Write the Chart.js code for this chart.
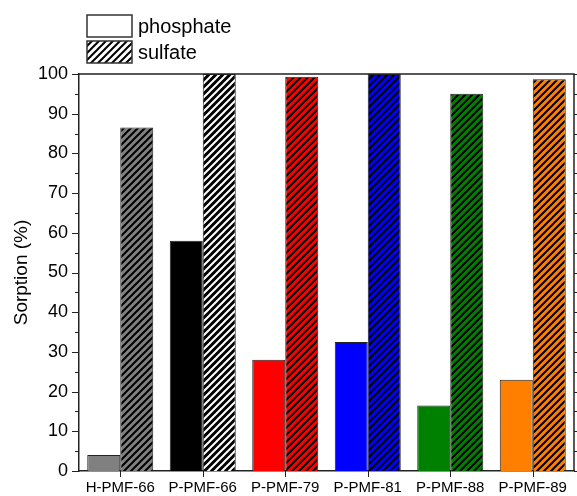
<!DOCTYPE html>
<html>
<head>
<meta charset="utf-8">
<script src="https://cdn.jsdelivr.net/npm/chart.js@4"></script>
<style>
  html, body { margin: 0; padding: 0; background: #fff; }
  #wrap { width: 577px; height: 496px; position: relative; }
</style>
</head>
<body>
<div id="wrap"><canvas id="sorptionChart"></canvas></div>
<script>
// ---- data ----
const samples = ['H-PMF-66', 'P-PMF-66', 'P-PMF-79', 'P-PMF-81', 'P-PMF-88', 'P-PMF-89'];
const phosphate = [4, 58, 28, 32.5, 16.5, 23];
const sulfate = [86.5, 100, 99.3, 100, 95, 98.7];
const barColors = ['#808080', '#000000', '#ff0000', '#0000ff', '#008000', '#ff8000'];
const yTicks = [0, 10, 20, 30, 40, 50, 60, 70, 80, 90, 100];

// diagonal hatch "/" on a coloured ground
function hatch(bg, fg) {
    const s = 7;
    const c = document.createElement('canvas');
    c.width = s; c.height = s;
    const g = c.getContext('2d');
    g.fillStyle = bg;
    g.fillRect(0, 0, s, s);
    g.strokeStyle = fg;
    g.lineWidth = 2;
    g.beginPath();
    g.moveTo(-1, s + 1); g.lineTo(s + 1, -1);
    g.moveTo(-1, 1); g.lineTo(1, -1);
    g.moveTo(s - 1, s + 1); g.lineTo(s + 1, s - 1);
    g.stroke();
    return g.createPattern(c, 'repeat');
}

const sulfateFills = barColors.map(c => c === '#000000' ? hatch('#000000', '#ffffff') : hatch(c, '#000000'));

const AXIS = '#222';
const FONT = '"Liberation Sans", Arial, sans-serif';

const framePlugin = {
    id: 'frame',
    afterDraw(chart) {
        const { ctx, chartArea: a, scales } = chart;
        ctx.save();
        ctx.strokeStyle = AXIS;
        ctx.lineWidth = 1.5;
        // top and right border
        ctx.beginPath();
        ctx.moveTo(a.left, a.top); ctx.lineTo(a.right, a.top);
        ctx.lineTo(a.right, a.bottom);
        ctx.stroke();
        // left axis ticks (major outward 7px, minor 4px), right axis ticks outward
        ctx.lineWidth = 1;
        for (let v = 0; v <= 100; v += 5) {
            const y = Math.round(scales.y.getPixelForValue(v)) + 0.5;
            const len = v % 10 === 0 ? 7 : 4;
            ctx.beginPath();
            ctx.moveTo(a.left - len, y); ctx.lineTo(a.left, y);
            ctx.moveTo(a.right, y); ctx.lineTo(a.right + len, y);
            ctx.stroke();
        }
        // x ticks at category centres
        samples.forEach((s, i) => {
            const x = Math.round(scales.x.getPixelForValue(i)) + 0.5;
            ctx.beginPath();
            ctx.moveTo(x, a.bottom); ctx.lineTo(x, a.bottom + 6);
            ctx.stroke();
        });
        // legend
        const items = [
            { text: chart.data.datasets[0].label, fill: '#ffffff' },
            { text: chart.data.datasets[1].label, fill: hatch('#ffffff', '#000000') }
        ];
        ctx.font = '20px ' + FONT;
        ctx.textBaseline = 'middle';
        ctx.textAlign = 'left';
        items.forEach((it, i) => {
            const bx = 87, by = 15 + i * 26, bw = 45, bh = 22;
            ctx.fillStyle = it.fill;
            ctx.fillRect(bx, by, bw, bh);
            ctx.strokeStyle = '#333';
            ctx.lineWidth = 1.5;
            ctx.strokeRect(bx, by, bw, bh);
            ctx.fillStyle = '#000';
            ctx.fillText(it.text, bx + bw + 6, by + bh / 2 + 1);
        });
        ctx.restore();
    }
};

new Chart(document.getElementById('sorptionChart'), {
    type: 'bar',
    data: {
        labels: samples,
        datasets: [
            {
                label: 'phosphate',
                data: phosphate,
                backgroundColor: barColors,
                borderColor: AXIS,
                borderWidth: 1
            },
            {
                label: 'sulfate',
                data: sulfate,
                backgroundColor: sulfateFills,
                borderColor: AXIS,
                borderWidth: 1
            }
        ]
    },
    options: {
        responsive: true,
        maintainAspectRatio: false,
        animation: false,
        datasets: { bar: { categoryPercentage: 0.8, barPercentage: 1.0 } },
        layout: { padding: { top: 74, right: 3, left: 0, bottom: 0 } },
        plugins: {
            legend: { display: false },
            tooltip: { enabled: false }
        },
        scales: {
            x: {
                offset: true,
                grid: { display: false, tickLength: 0 },
                border: { display: true, color: AXIS, width: 1.5 },
                ticks: {
                    color: '#000',
                    padding: 8,
                    maxRotation: 0,
                    autoSkip: false,
                    font: { family: FONT, size: 15 }
                },
                afterFit(scale) { scale.height = 25; }
            },
            y: {
                min: 0,
                max: 100,
                grid: { display: false, tickLength: 0 },
                border: { display: true, color: AXIS, width: 1.5 },
                afterBuildTicks(scale) { scale.ticks = yTicks.map(v => ({ value: v })); },
                ticks: {
                    color: '#000',
                    padding: 11,
                    font: { family: FONT, size: 18 }
                },
                title: {
                    display: true,
                    text: 'Sorption (%)',
                    color: '#000',
                    padding: { top: 10, bottom: 0 },
                    font: { family: FONT, size: 19 }
                },
                afterFit(scale) { scale.width = 79; }
            }
        }
    },
    plugins: [framePlugin]
});
</script>
</body>
</html>
